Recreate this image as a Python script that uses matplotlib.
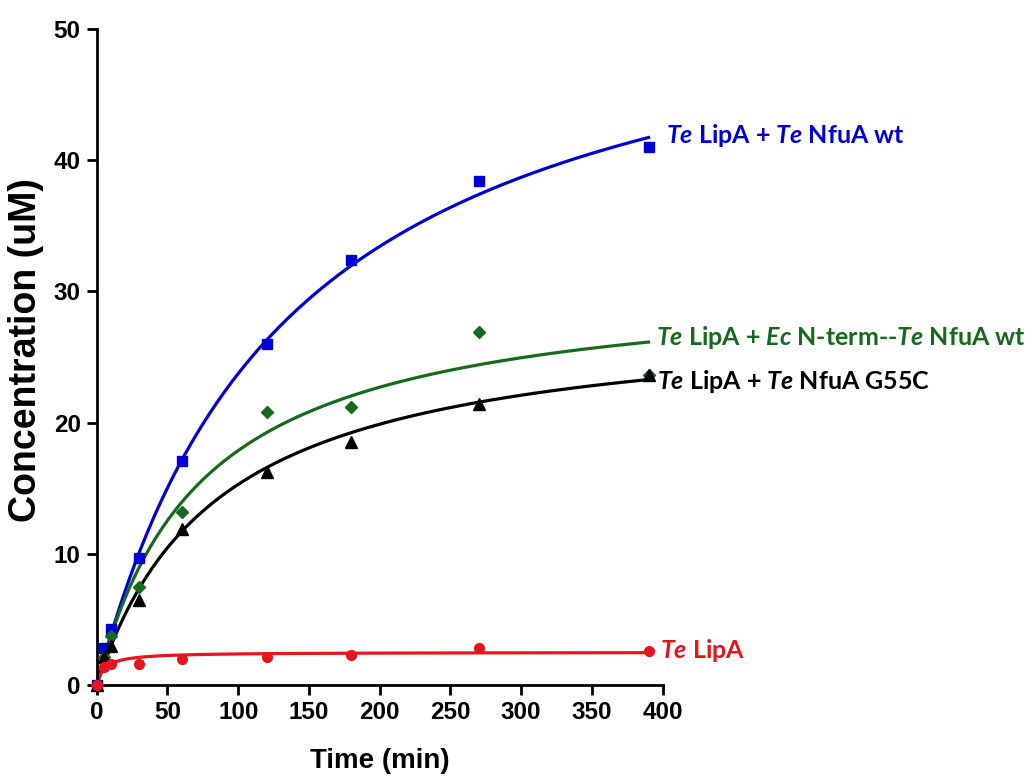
import numpy as np
import matplotlib
matplotlib.use("Agg")
import matplotlib.pyplot as plt

# ---------------- data ----------------
time_min = [0, 5, 10, 30, 60, 120, 180, 270, 390]
nfua_wt = [0, 2.8, 4.3, 9.7, 17.1, 26.0, 32.4, 38.4, 41.0]
ec_nterm = [0, 2.1, 3.7, 7.5, 13.2, 20.8, 21.2, 26.9, 23.6]
nfua_g55c = [0, 2.1, 3.0, 6.5, 11.9, 16.2, 18.5, 21.4, 23.6]
lipa_only = [0, 1.4, 1.6, 1.6, 2.0, 2.1, 2.3, 2.8, 2.6]

# fitted saturation curves: y = vmax * t / (k_half + t)
fit_vmax = [56.5, 31.1, 28.4, 2.5]
fit_khalf = [138.0, 74.0, 85.7, 5.5]

labels = [
    r"$\mathit{Te}$ LipA + $\mathit{Te}$ NfuA wt",
    r"$\mathit{Te}$ LipA + $\mathit{Ec}$ N-term--$\mathit{Te}$ NfuA wt",
    r"$\mathit{Te}$ LipA + $\mathit{Te}$ NfuA G55C",
    r"$\mathit{Te}$ LipA",
]
x_ticks = [0, 50, 100, 150, 200, 250, 300, 350, 400]
y_ticks = [0, 10, 20, 30, 40, 50]

# ---------------- styling ----------------
tick_family = "Liberation Sans"
lab_family = "Lato"
plt.rcParams["mathtext.fontset"] = "custom"
plt.rcParams["mathtext.it"] = "Lato:italic:bold"
plt.rcParams["mathtext.rm"] = "Lato:bold"
plt.rcParams["mathtext.bf"] = "Lato:bold"

fig = plt.figure(figsize=(10.29, 7.78), dpi=100)
ax = fig.add_axes([0.094, 0.1195, 0.550, 0.8432])

series = [
    (nfua_wt, "#0000d6", "s", 7.5),
    (ec_nterm, "#166a1c", "D", 6.5),
    (nfua_g55c, "#000000", "^", 8.0),
    (lipa_only, "#e8141c", "o", 7.0),
]
label_x = [402, 395, 396, 398]
label_y = [41.9, 26.5, 23.1, 2.65]

tt = np.linspace(0, max(time_min), 400)
for (ys, col, mk, ms), vmax, kh, lab, lx, ly in zip(series, fit_vmax, fit_khalf,
                                                     labels, label_x, label_y):
    ax.plot(tt, vmax * tt / (kh + tt), color=col, lw=2.3, zorder=2)
    ax.plot(time_min, ys, linestyle="none", marker=mk, ms=ms, color=col,
            markeredgecolor=col, clip_on=False, zorder=3)
    ax.text(lx, ly, lab, color=col, fontsize=18, fontfamily=lab_family,
            fontweight="bold", va="center", ha="left", clip_on=False)

ax.set_xlim(0, 400)
ax.set_ylim(0, 50)
ax.set_xticks(x_ticks)
ax.set_yticks(y_ticks)
ax.spines["top"].set_visible(False)
ax.spines["right"].set_visible(False)
for s in ("left", "bottom"):
    ax.spines[s].set_linewidth(2.0)
ax.tick_params(axis="both", direction="out", length=7.5, width=2.0, pad=4)
for t in ax.get_xticklabels() + ax.get_yticklabels():
    t.set_fontfamily(tick_family)
    t.set_fontweight("bold")
    t.set_fontsize(17.5)

ax.set_xlabel("Time (min)", fontfamily=tick_family, fontweight="bold",
              fontsize=20, labelpad=17)
ax.set_ylabel("Concentration (uM)", fontfamily=tick_family, fontweight="bold",
              fontsize=27, labelpad=7)
ax.yaxis.label.set_y(0.51)

fig.savefig("out.png", dpi=100)
